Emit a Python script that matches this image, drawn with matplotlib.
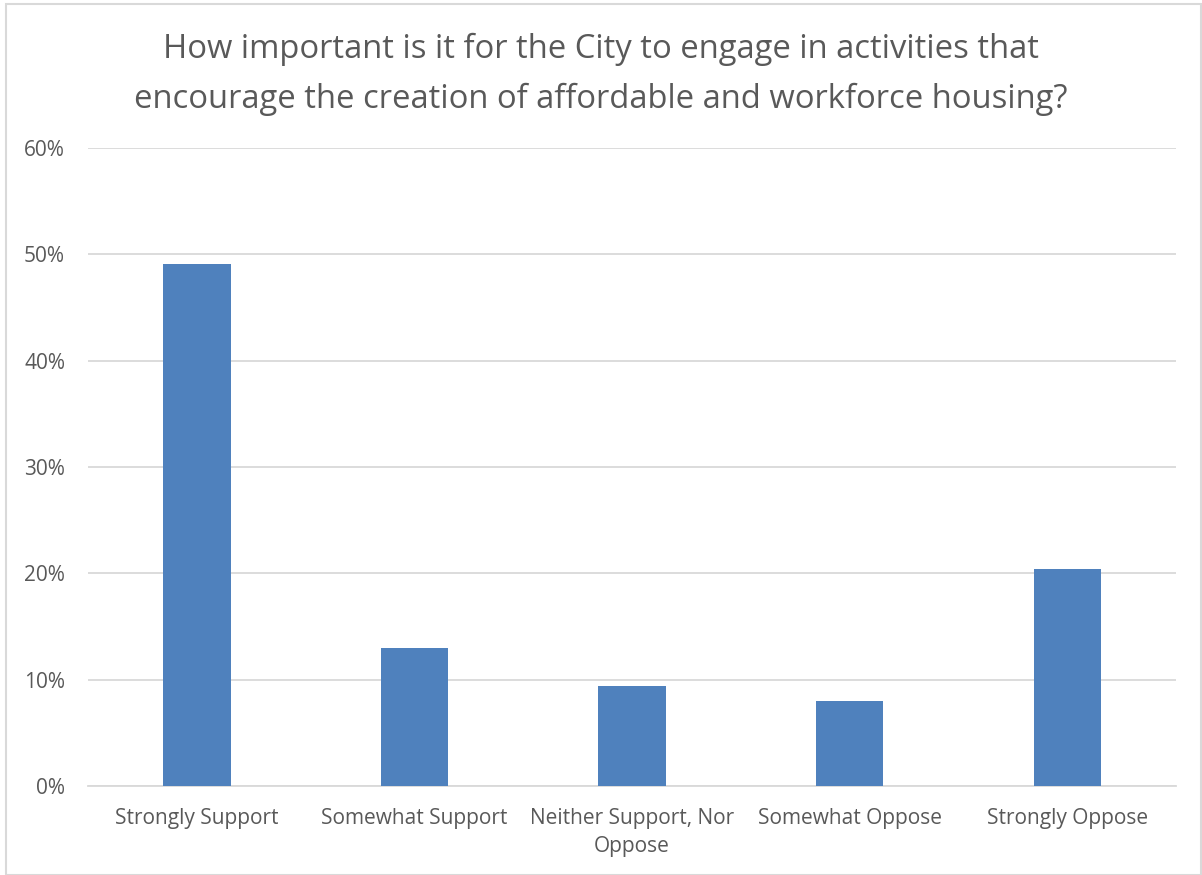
import matplotlib.pyplot as plt
from matplotlib.patches import Rectangle
from matplotlib.ticker import PercentFormatter

categories = ["Strongly Support", "Somewhat Support", "Neither Support, Nor\nOppose",
              "Somewhat Oppose", "Strongly Oppose"]
shares = [49.1, 13.0, 9.4, 8.0, 20.4]
yticks = [0, 10, 20, 30, 40, 50, 60]

title = ("How important is it for the City to engage in activities that\n"
         "encourage the creation of affordable and workforce housing?")

plt.rcParams['font.family'] = ['Open Sans', 'DejaVu Sans']
text_color = "#595959"

fig = plt.figure(figsize=(12.02, 8.75), dpi=100)
ax = fig.add_axes([0.0732, 0.1017, 0.9052, 0.7292])

x = range(len(categories))
ax.bar(x, shares, width=0.31, color="#4f81bd", zorder=3)

ax.set_xlim(-0.5, len(categories) - 0.5)
ax.set_ylim(0, 60)
ax.set_yticks(yticks)
ax.yaxis.set_major_formatter(PercentFormatter(decimals=0))
ax.set_xticks(list(x))
ax.set_xticklabels(categories, linespacing=1.45)

ax.grid(axis="y", color="#d9d9d9", linewidth=1.3, zorder=0)
for s in ["top", "right", "left"]:
    ax.spines[s].set_visible(False)
ax.spines["bottom"].set_color("#d9d9d9")
ax.spines["bottom"].set_linewidth(1.3)
ax.tick_params(axis="both", length=0, labelsize=15, colors=text_color)
ax.tick_params(axis="y", pad=16.5)
ax.tick_params(axis="x", pad=15.5)

fig.text(0.5, 0.962, title, ha="center", va="top", fontsize=23.6,
         color=text_color, linespacing=1.63)

# light chart-area border
fig.patches.append(Rectangle((0.005, 0.0), 0.994, 0.996, transform=fig.transFigure,
                             fill=False, edgecolor="#d9d9d9", linewidth=1.5))

fig.savefig("out.png", dpi=100)
